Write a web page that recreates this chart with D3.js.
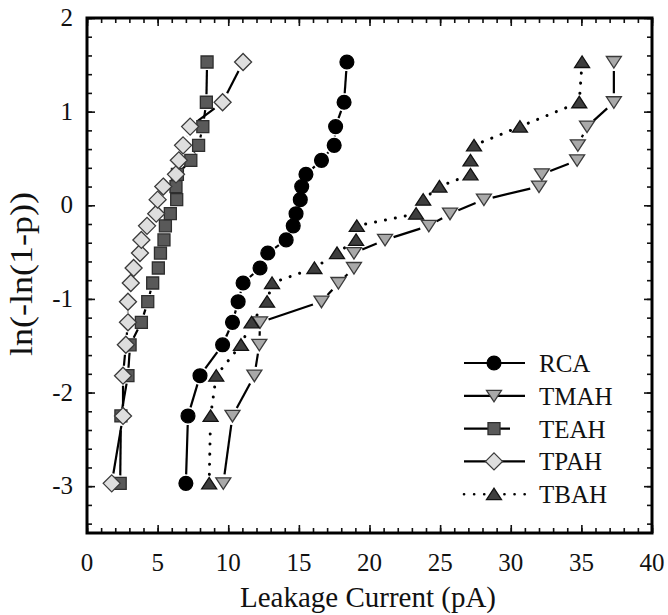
<!DOCTYPE html>
<html>
<head>
<meta charset="utf-8">
<script src="https://cdn.jsdelivr.net/npm/d3@7"></script>
<style>
  body { margin: 0; background: #fff; }
</style>
</head>
<body>
<svg id="viz"></svg>
<script>
let width = 668;
let height = 615;
let serif = "'Liberation Serif'";

// ln(-ln(1-p)) positions, same 20 ranks for every etchant
let rankY = [-2.97, -2.25, -1.82, -1.49, -1.25, -1.03, -0.83, -0.67, -0.51, -0.37,
             -0.22, -0.09, 0.06, 0.20, 0.33, 0.48, 0.64, 0.84, 1.10, 1.53];

// leakage current (pA) per etchant, sorted low to high
let rcaX  = [7.0, 7.15, 8.0, 9.6, 10.3, 10.7, 11.05, 12.25, 12.8, 14.1,
             14.6, 14.8, 15.1, 15.2, 15.5, 16.6, 17.5, 17.6, 18.2, 18.4];
let tmahX = [9.65, 10.3, 11.85, 12.2, 12.25, 16.6, 17.8, 18.9, 18.9, 21.1,
             24.2, 25.7, 28.1, 32.0, 32.2, 34.7, 34.75, 35.4, 37.3, 37.3];
let teahX = [2.35, 2.4, 2.9, 3.05, 3.85, 4.3, 4.65, 5.05, 5.2, 5.45,
             5.55, 5.9, 6.35, 6.3, 6.4, 7.35, 7.9, 8.2, 8.45, 8.5];
let tpahX = [1.75, 2.55, 2.55, 2.75, 2.9, 2.9, 3.1, 3.3, 3.75, 3.85,
             4.25, 4.9, 5.0, 5.4, 6.3, 6.5, 6.8, 7.3, 9.6, 11.05];
let tbahX = [8.65, 8.75, 9.15, 10.9, 11.65, 12.75, 13.1, 16.1, 17.7, 19.05,
             19.1, 23.3, 23.8, 24.95, 27.15, 27.15, 27.4, 30.65, 34.85, 35.05];

let seriesNames = ["RCA", "TMAH", "TEAH", "TPAH", "TBAH"];
let xTicks = [0, 5, 10, 15, 20, 25, 30, 35, 40];
let yTicks = [-3, -2, -1, 0, 1, 2];

let styles = {
    RCA:  { xs: rcaX,  shape: "circle", fill: "#000",    stroke: "#000", dash: null,   half: 7 },
    TMAH: { xs: tmahX, shape: "down",   fill: "#a9a9a9", stroke: "#3a3a3a", dash: null, half: 7 },
    TEAH: { xs: teahX, shape: "square", fill: "#595959", stroke: "#2e2e2e", dash: "45,12", half: 6 },
    TPAH: { xs: tpahX, shape: "diamond", fill: "#dedede", stroke: "#3a3a3a", dash: null, half: 8 },
    TBAH: { xs: tbahX, shape: "up",     fill: "#3e3e3e", stroke: "#111", dash: "0.1,10", half: 7 }
};

let x = d3.scaleLinear().domain([0, 40]).range([87, 652]);
let y = d3.scaleLinear().domain([-3.5, 2]).range([533, 18]);

let svg = d3.select("#viz")
    .attr("width", width)
    .attr("height", height);

function markerPath(shape) {
    if (shape == "circle") return d3.symbol(d3.symbolCircle, 150)();
    if (shape == "square") return d3.symbol(d3.symbolSquare, 144)();
    if (shape == "diamond") return "M0,-8.5L8.5,0L0,8.5L-8.5,0Z";
    if (shape == "down") return "M-7.5,-5.5L7.5,-5.5L0,6Z";
    return "M-7.5,5.5L7.5,5.5L0,-6Z";
}

// axes: ticks inside the frame, mirrored on top and right
let plot = svg.append("g");

function tickMarks(g, axis) {
    g.call(axis);
    g.select(".domain").remove();
    g.selectAll("line").attr("stroke", "#111").attr("stroke-width", 1.6);
    g.selectAll("text").remove();
}

let xMinor = d3.range(0, 41, 1);
let yMinor = d3.range(-3.4, 2.001, 0.2).map(v => Math.round(v * 10) / 10);

tickMarks(plot.append("g").attr("transform", "translate(0,533)"),
    d3.axisTop(x).tickValues(xMinor).tickSize(5));
tickMarks(plot.append("g").attr("transform", "translate(0,533)"),
    d3.axisTop(x).tickValues(xTicks).tickSize(8));
tickMarks(plot.append("g").attr("transform", "translate(0,18)"),
    d3.axisBottom(x).tickValues(xMinor).tickSize(5));
tickMarks(plot.append("g").attr("transform", "translate(0,18)"),
    d3.axisBottom(x).tickValues(xTicks).tickSize(8));
tickMarks(plot.append("g").attr("transform", "translate(87,0)"),
    d3.axisRight(y).tickValues(yMinor).tickSize(5));
tickMarks(plot.append("g").attr("transform", "translate(87,0)"),
    d3.axisRight(y).tickValues(yTicks).tickSize(8));
tickMarks(plot.append("g").attr("transform", "translate(652,0)"),
    d3.axisLeft(y).tickValues(yMinor).tickSize(5));
tickMarks(plot.append("g").attr("transform", "translate(652,0)"),
    d3.axisLeft(y).tickValues(yTicks).tickSize(8));

plot.append("rect")
    .attr("x", 87).attr("y", 18)
    .attr("width", 652 - 87).attr("height", 533 - 18)
    .attr("fill", "none")
    .attr("stroke", "#000")
    .attr("stroke-width", 3);

svg.selectAll(".xlab")
    .data(xTicks)
    .enter()
    .append("text")
    .attr("class", "xlab")
    .attr("x", d => x(d))
    .attr("y", 571)
    .attr("text-anchor", "middle")
    .style("font-family", serif)
    .style("font-size", "25px")
    .style("fill", "#111")
    .text(d => d);

svg.selectAll(".ylab")
    .data(yTicks)
    .enter()
    .append("text")
    .attr("class", "ylab")
    .attr("x", 73)
    .attr("y", d => y(d) + 8)
    .attr("text-anchor", "end")
    .style("font-family", serif)
    .style("font-size", "25px")
    .style("fill", "#111")
    .text(d => d < 0 ? "-" + Math.abs(d) : d);

svg.append("text")
    .attr("x", 368)
    .attr("y", 607)
    .attr("text-anchor", "middle")
    .style("font-family", serif)
    .style("font-size", "29px")
    .style("fill", "#111")
    .text("Leakage Current (pA)");

svg.append("text")
    .attr("transform", "translate(32,274) rotate(-90)")
    .attr("text-anchor", "middle")
    .attr("textLength", 164)
    .attr("lengthAdjust", "spacingAndGlyphs")
    .style("font-family", serif)
    .style("font-size", "31px")
    .style("fill", "#111")
    .text("ln(-ln(1-p))");

// lines, cut short near each marker like the original
for (const name of seriesNames) {
    let s = styles[name];
    let pts = s.xs.map((v, i) => [x(v), y(rankY[i])]);
    let segs = [];
    for (let i = 0; i < pts.length - 1; i++) {
        let [x0, y0] = pts[i], [x1, y1] = pts[i + 1];
        let len = Math.hypot(x1 - x0, y1 - y0);
        let cut = s.half + 2;
        if (len <= 2 * cut) continue;
        let ux = (x1 - x0) / len, uy = (y1 - y0) / len;
        segs.push([x0 + ux * cut, y0 + uy * cut, x1 - ux * cut, y1 - uy * cut]);
    }
    plot.append("g")
        .selectAll("line")
        .data(segs)
        .enter()
        .append("line")
        .attr("x1", d => d[0]).attr("y1", d => d[1])
        .attr("x2", d => d[2]).attr("y2", d => d[3])
        .attr("stroke", "#000")
        .attr("stroke-width", name == "TBAH" ? 3 : 2.2)
        .attr("stroke-linecap", name == "TBAH" ? "round" : "butt")
        .attr("stroke-dasharray", s.dash);
}

for (const name of seriesNames) {
    let s = styles[name];
    plot.append("g")
        .selectAll("path")
        .data(s.xs)
        .enter()
        .append("path")
        .attr("transform", (d, i) => "translate(" + x(d) + "," + y(rankY[i]) + ")")
        .attr("d", markerPath(s.shape))
        .attr("fill", s.fill)
        .attr("stroke", s.stroke)
        .attr("stroke-width", 1.3);
}

// legend
let legend = svg.append("g");
seriesNames.forEach((name, i) => {
    let s = styles[name];
    let ly = 363 + i * 32.8;
    let row = legend.append("g");
    row.append("line")
        .attr("x1", 464).attr("x2", name == "TEAH" ? 510 : 525)
        .attr("y1", ly).attr("y2", ly)
        .attr("stroke", "#000")
        .attr("stroke-width", name == "TBAH" ? 2.6 : 2.2)
        .attr("stroke-linecap", name == "TBAH" ? "round" : "butt")
        .attr("stroke-dasharray", name == "TBAH" ? "0.1,10" : null);
    row.append("path")
        .attr("transform", "translate(494," + ly + ")")
        .attr("d", markerPath(s.shape))
        .attr("fill", s.fill)
        .attr("stroke", s.stroke)
        .attr("stroke-width", 1.3);
    row.append("text")
        .attr("x", 539)
        .attr("y", ly + 9)
        .style("font-family", serif)
        .style("font-size", "25px")
        .style("fill", "#111")
        .text(name);
});
</script>
</body>
</html>
